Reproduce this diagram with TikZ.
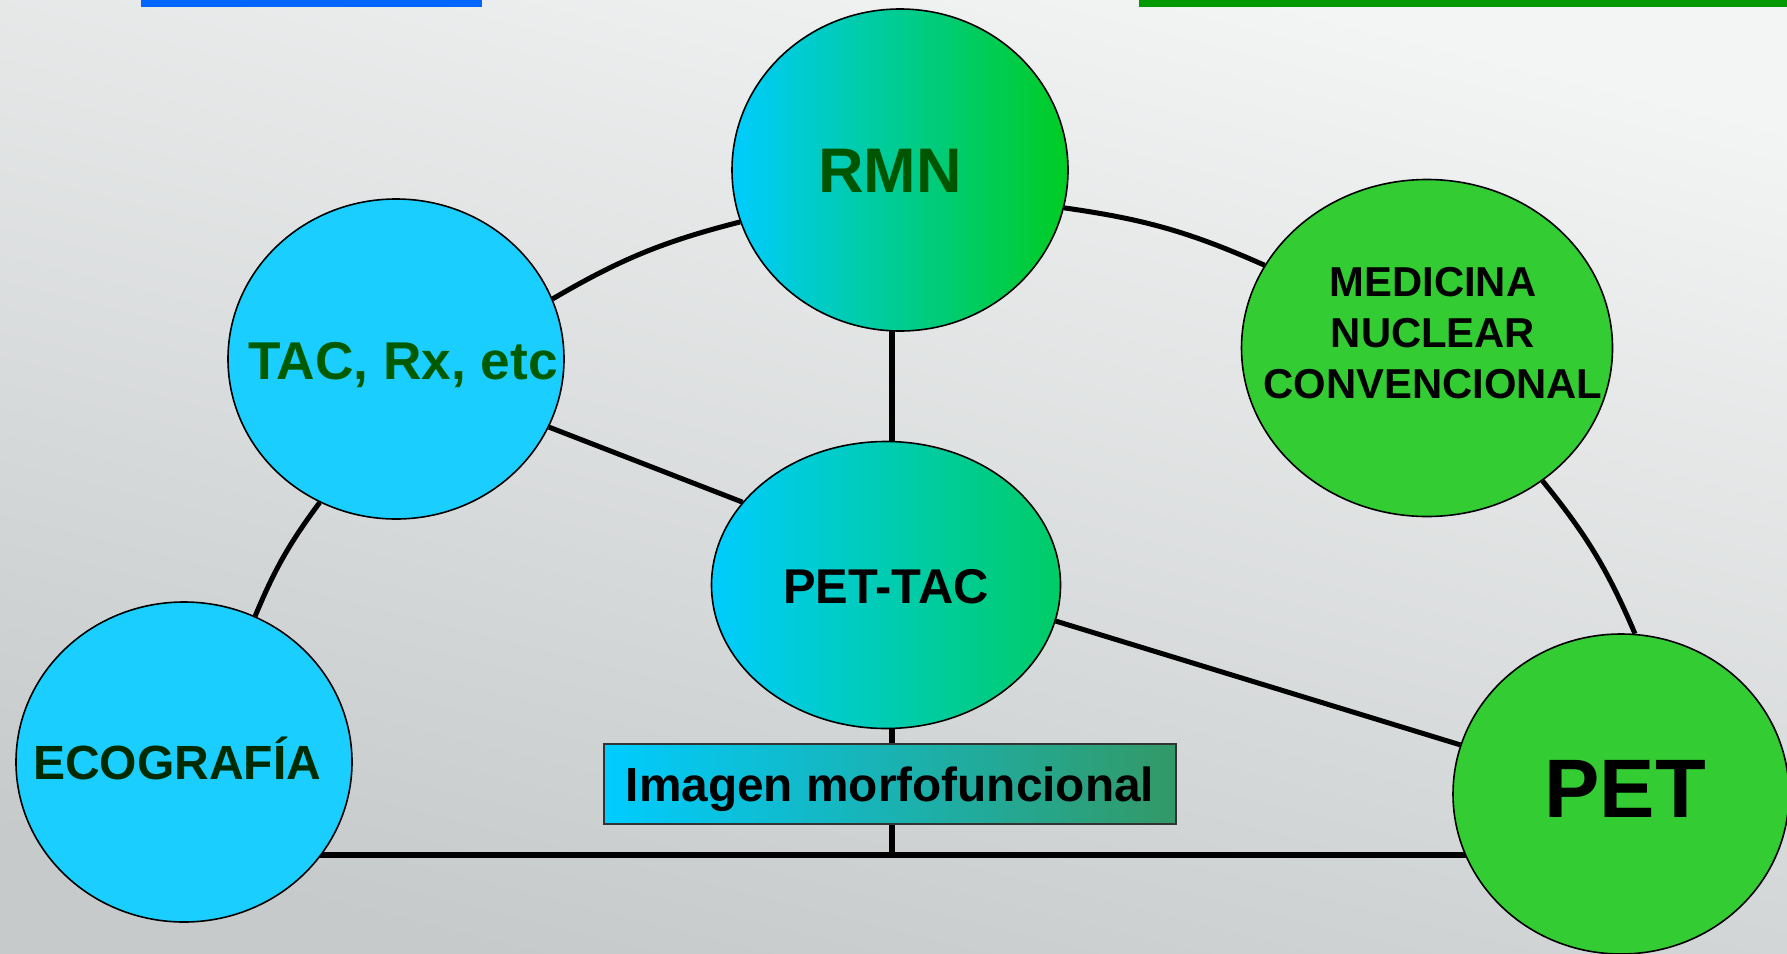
\documentclass[tikz,border=0pt]{standalone}
\usepackage{fontspec}
\setmainfont{Liberation Sans}
\usetikzlibrary{shapes.geometric}

\pgfdeclarelayer{backdrop}
\pgfdeclarelayer{wires}
\pgfsetlayers{backdrop,wires,main}

\definecolor{skyfill}{HTML}{1ACFFF}
\definecolor{cyanstart}{HTML}{00CCFF}
\definecolor{greenfill}{HTML}{33CC33}
\definecolor{rmnend}{HTML}{00CC22}
\definecolor{pettacend}{HTML}{00CC66}
\definecolor{boxend}{HTML}{339966}
\definecolor{rmntext}{HTML}{005500}
\definecolor{tactext}{HTML}{005A00}
\definecolor{ecotext}{HTML}{002B00}
\definecolor{barblue}{HTML}{0066FF}
\definecolor{bargreen}{HTML}{009900}
\definecolor{bgtop}{HTML}{F3F4F4}
\definecolor{bgbottom}{HTML}{C6CACB}
\definecolor{boxline}{HTML}{333333}

\tikzset{
  bubble/.style={ellipse, draw=black, line width=0.8pt, inner sep=0pt},
  wire/.style={draw=black, line width=2.5pt},
  heavywire/.style={draw=black, line width=3pt},
  lbl/.style={inner sep=0pt, align=center},
}

\begin{document}
\begin{tikzpicture}[x=0.5pt,y=-0.5pt]
\useasboundingbox (0,0) rectangle (1787,953);

% backdrop
\begin{pgfonlayer}{backdrop}
  \shade[top color=bgtop, bottom color=bgbottom, shading angle=-14]
    (0,0) rectangle (1787,953);
\end{pgfonlayer}

% header bars
\fill[barblue] (141,0) rectangle (482,7);
\fill[bargreen] (1139,0) rectangle (1787,7);

% bubbles
\node[bubble, minimum width=168pt, minimum height=161pt,
      left color=cyanstart, right color=rmnend] (rmn) at (900,170) {};
\node[bubble, minimum width=168pt, minimum height=160pt, fill=skyfill] (tac) at (396,359) {};
\node[bubble, minimum width=185.5pt, minimum height=168.5pt, fill=greenfill] (med) at (1427,348) {};
\node[bubble, minimum width=174.5pt, minimum height=143.5pt,
      left color=cyanstart, right color=pettacend] (pettac) at (886,585) {};
\node[bubble, minimum width=168pt, minimum height=160pt, fill=skyfill] (eco) at (184,762) {};
\node[bubble, minimum width=168pt, minimum height=160pt, fill=greenfill] (pet) at (1621,794) {};

% labelled box
\node[draw=boxline, line width=0.6pt, left color=cyanstart, right color=boxend,
      minimum width=286pt, minimum height=40pt, inner sep=0pt,
      text height=17pt, text depth=0pt,
      font=\fontsize{23.9}{28}\selectfont\bfseries] (morfo) at (890,784)
      {Imagen morfofuncional};

% bubble texts
\node[lbl, anchor=base, text=rmntext, font=\fontsize{31.5}{36}\selectfont\bfseries]
  (rmnt) at (890,192) {RMN};
\node[lbl, anchor=base, text=tactext, font=\fontsize{26.6}{30}\selectfont\bfseries]
  (tact) at (403,379) {TAC, Rx, etc};
\node[lbl, font=\fontsize{20.9}{25.5}\selectfont\bfseries]
  (medt) at (1433,333) {MEDICINA\\NUCLEAR\\CONVENCIONAL};
\node[lbl, anchor=base, font=\fontsize{24.4}{28}\selectfont\bfseries]
  (pettact) at (886,603) {PET-TAC};
\node[lbl, anchor=base, text=ecotext, font=\fontsize{24}{28}\selectfont\bfseries]
  (ecot) at (177,779) {ECOGRAF\'IA};
\node[lbl, anchor=base, font=\fontsize{41.5}{48}\selectfont\bfseries]
  (pett) at (1625,817) {PET};

% connectors
\coordinate (base) at (892,855);
\begin{pgfonlayer}{wires}
  \draw[wire] (eco.64) to[bend left=7] (tac.242);
  \draw[wire] (tac.21) to[bend left=8] (rmn.198);
  \draw[wire] (rmn.347) to[bend left=8] (med.153);
  \draw[wire] (med.311) to[bend left=8] (pet.85);
  \draw[wire] (tac.336) -- (pettac.150);
  \draw[wire] (pettac.348) -- (pet.163);
  \draw[wire, line width=2.6pt] (base |- rmn.center) -- (base);
  \draw[heavywire] (eco.center |- base) -- (pet.center |- base);
\end{pgfonlayer}
\end{tikzpicture}
\end{document}
